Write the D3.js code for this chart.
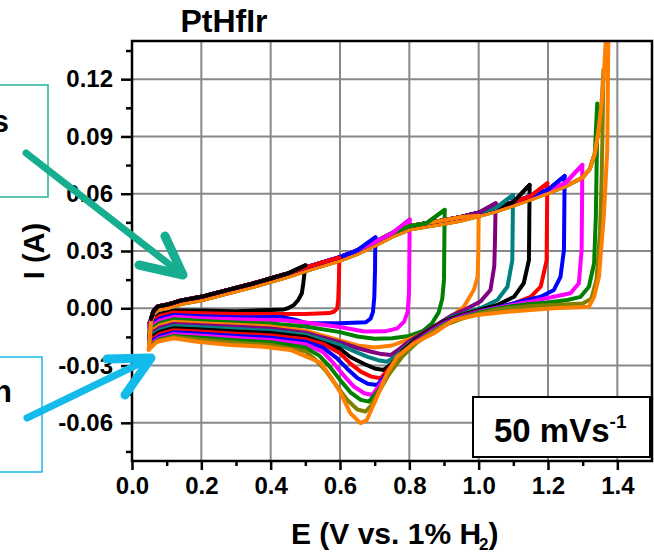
<!DOCTYPE html>
<html>
<head>
<meta charset="utf-8">
<script src="https://cdn.jsdelivr.net/npm/d3@7"></script>
<style>
body { margin: 0; background: #fff; }
svg { display: block; font-family: "Liberation Sans", Arial, sans-serif; font-weight: bold; }
</style>
</head>
<body>
<div id="chart"></div>
<script>
// upper potential limit of each cycle and its colour
var upperLimits = [0.5, 0.6, 0.7, 0.8, 0.9, 1.0, 1.05, 1.1, 1.15, 1.2, 1.25, 1.3, 1.35, 1.37, 1.38];
var lineColors = ["#000000", "#ff0000", "#0000ff", "#ff00ff", "#008000", "#ff8000", "#800080", "#008080",
    "#000000", "#ff0000", "#0000ff", "#ff00ff", "#008000", "#808000", "#ff8000"];

// anodic (forward) sweep; the earlier cycles run slightly above the last ones
var forwardE = [0.055, 0.062, 0.075, 0.1, 0.14, 0.2, 0.28, 0.35, 0.4, 0.45, 0.5, 0.55, 0.6, 0.65, 0.7, 0.75,
    0.8, 0.85, 0.9, 0.95, 1.0, 1.05, 1.1, 1.15, 1.2, 1.25, 1.3, 1.32, 1.335, 1.345, 1.355, 1.362, 1.368, 1.372];
var forwardI = [-0.007, -0.003, -0.0008, 0.0, 0.0022, 0.0042, 0.008, 0.0112, 0.0138, 0.0165, 0.0195, 0.0222,
    0.025, 0.0285, 0.0328, 0.0375, 0.0412, 0.0428, 0.0443, 0.046, 0.0483, 0.0508, 0.0538, 0.057, 0.0603,
    0.0638, 0.0685, 0.0728, 0.081, 0.092, 0.108, 0.125, 0.145, 0.16];
var forwardUpperI = [-0.0055, -0.0015, 0.001, 0.0018, 0.004, 0.006, 0.0098, 0.013, 0.0156, 0.0183, 0.0213, 0.024,
    0.0268, 0.0303, 0.0346, 0.0393, 0.043, 0.0446, 0.0461, 0.0478, 0.0501, 0.0526, 0.0556, 0.0588, 0.0621,
    0.0656, 0.0703, 0.0746, 0.0828, 0.0938, 0.1098, 0.1268, 0.1468, 0.1618];
var upperBandCycles = 12;

// cathodic (return) sweeps, [E, I], starting at the turning point
var rev050 = [[0.5, 0.0225], [0.494, 0.013], [0.49, 0.0079], [0.48, 0.0045], [0.467, 0.0017], [0.45, 0.0],
    [0.438, -0.0006], [0.4, -0.0009], [0.3, -0.0015], [0.2, -0.0012], [0.12, -0.0012], [0.08, -0.003],
    [0.06, -0.0055], [0.05, -0.0075]];
var rev060 = [[0.598, 0.0265], [0.597, 0.015], [0.595, 0.005], [0.592, 0.0], [0.583, -0.0017], [0.57, -0.0025],
    [0.5, -0.003], [0.4, -0.003], [0.3, -0.003], [0.2, -0.0026], [0.12, -0.0022], [0.08, -0.004],
    [0.06, -0.0065], [0.05, -0.0085]];
var rev070 = [[0.702, 0.0372], [0.701, 0.02], [0.699, 0.006], [0.695, -0.002], [0.688, -0.0055], [0.675, -0.0073],
    [0.6, -0.0079], [0.505, -0.0079], [0.47, -0.006], [0.43, -0.0046], [0.3, -0.0047], [0.2, -0.0042],
    [0.12, -0.0035], [0.08, -0.0055], [0.06, -0.0078], [0.05, -0.0098]];
var rev080 = [[0.801, 0.0465], [0.8, 0.025], [0.799, 0.008], [0.795, -0.002], [0.785, -0.007], [0.765, -0.0105],
    [0.73, -0.0121], [0.67, -0.0122], [0.6, -0.0098], [0.5, -0.0075], [0.43, -0.0062], [0.3, -0.0058],
    [0.2, -0.0052], [0.12, -0.0045], [0.08, -0.0065], [0.06, -0.009], [0.05, -0.011]];
var rev090 = [[0.902, 0.0515], [0.901, 0.035], [0.9, 0.015], [0.895, 0.005], [0.885, -0.002], [0.865, -0.008],
    [0.84, -0.0118], [0.8, -0.0145], [0.75, -0.0157], [0.7, -0.016], [0.65, -0.0148], [0.6, -0.0125],
    [0.5, -0.0095], [0.4, -0.008], [0.3, -0.0075], [0.2, -0.0066], [0.12, -0.0058], [0.08, -0.0078],
    [0.06, -0.0102], [0.05, -0.0122]];
var rev100 = [[1.0, 0.0485], [0.999, 0.03], [0.997, 0.0165], [0.986, 0.0096], [0.957, 0.0008], [0.93, -0.003],
    [0.909, -0.0061], [0.87, -0.0105], [0.813, -0.0152], [0.75, -0.0195], [0.7, -0.0205], [0.65, -0.0195],
    [0.6, -0.0168], [0.5, -0.0118], [0.4, -0.0095], [0.3, -0.0086], [0.2, -0.0078], [0.12, -0.007],
    [0.08, -0.009], [0.06, -0.0115], [0.05, -0.0135]];
var rev105 = [[1.049, 0.055], [1.047, 0.035], [1.045, 0.022], [1.034, 0.0096], [1.005, 0.0035], [0.957, -0.001],
    [0.92, -0.004], [0.88, -0.0085], [0.84, -0.0128], [0.8, -0.0172], [0.77, -0.0215], [0.746, -0.0245],
    [0.72, -0.024], [0.69, -0.0228], [0.65, -0.0208], [0.6, -0.0178], [0.5, -0.0128], [0.4, -0.0106],
    [0.3, -0.0097], [0.2, -0.0089], [0.12, -0.0082], [0.08, -0.0102], [0.06, -0.0127], [0.05, -0.0147]];
var rev110 = [[1.099, 0.0593], [1.098, 0.04], [1.097, 0.025], [1.083, 0.0113], [1.054, 0.0043], [1.005, 0.0],
    [0.96, -0.0025], [0.92, -0.0048], [0.88, -0.009], [0.84, -0.0135], [0.8, -0.0185], [0.765, -0.0245],
    [0.736, -0.028], [0.71, -0.0272], [0.68, -0.0255], [0.65, -0.0232], [0.6, -0.0192], [0.5, -0.0138],
    [0.4, -0.0118], [0.3, -0.0109], [0.2, -0.01], [0.12, -0.0093], [0.08, -0.0113], [0.06, -0.0137],
    [0.05, -0.0157]];
var rev115 = [[1.147, 0.0646], [1.146, 0.045], [1.145, 0.0253], [1.13, 0.0131], [1.102, 0.006], [1.054, 0.0017],
    [1.0, -0.001], [0.95, -0.0035], [0.9, -0.0068], [0.86, -0.0112], [0.82, -0.016], [0.78, -0.0225],
    [0.75, -0.029], [0.726, -0.0323], [0.7, -0.0315], [0.67, -0.0292], [0.63, -0.0255], [0.6, -0.0212],
    [0.5, -0.015], [0.4, -0.013], [0.3, -0.0121], [0.2, -0.0111], [0.12, -0.0104], [0.08, -0.0124],
    [0.06, -0.0148], [0.05, -0.0168]];
var rev120 = [[1.198, 0.0655], [1.197, 0.045], [1.196, 0.025], [1.179, 0.0113], [1.15, 0.006], [1.102, 0.0026],
    [1.05, 0.0], [1.0, -0.0015], [0.95, -0.004], [0.9, -0.0075], [0.86, -0.0118], [0.82, -0.0168],
    [0.78, -0.0235], [0.745, -0.031], [0.717, -0.0367], [0.69, -0.0358], [0.66, -0.0332], [0.63, -0.029],
    [0.6, -0.0235], [0.55, -0.0185], [0.5, -0.0162], [0.4, -0.0142], [0.3, -0.0133], [0.2, -0.0122],
    [0.12, -0.0115], [0.08, -0.0135], [0.06, -0.0158], [0.05, -0.0178]];
var rev125 = [[1.248, 0.0693], [1.247, 0.05], [1.246, 0.0305], [1.236, 0.0165], [1.217, 0.0096], [1.179, 0.006],
    [1.102, 0.0026], [1.05, 0.0003], [1.0, -0.0018], [0.95, -0.0043], [0.9, -0.0078], [0.86, -0.0122],
    [0.82, -0.0172], [0.78, -0.024], [0.745, -0.0325], [0.707, -0.0402], [0.68, -0.0395], [0.65, -0.0365],
    [0.62, -0.0315], [0.59, -0.026], [0.55, -0.0205], [0.5, -0.0175], [0.4, -0.0154], [0.3, -0.0145],
    [0.2, -0.0133], [0.12, -0.0126], [0.08, -0.0146], [0.06, -0.0168], [0.05, -0.0188]];
var rev130 = [[1.299, 0.0751], [1.298, 0.05], [1.297, 0.0305], [1.289, 0.0131], [1.265, 0.0079], [1.217, 0.006],
    [1.15, 0.0035], [1.1, 0.0018], [1.05, 0.0002], [1.0, -0.002], [0.95, -0.0046], [0.9, -0.0082],
    [0.86, -0.0126], [0.82, -0.0176], [0.78, -0.0245], [0.74, -0.034], [0.693, -0.0454], [0.67, -0.0445],
    [0.64, -0.041], [0.61, -0.035], [0.58, -0.0285], [0.55, -0.0228], [0.5, -0.0188], [0.4, -0.0166],
    [0.3, -0.0156], [0.2, -0.0144], [0.12, -0.0136], [0.08, -0.0156], [0.06, -0.0178], [0.05, -0.0198]];
var rev135 = [[1.342, 0.1073], [1.341, 0.083], [1.338, 0.048], [1.333, 0.0236], [1.318, 0.0113], [1.294, 0.006],
    [1.256, 0.0043], [1.2, 0.003], [1.15, 0.0022], [1.1, 0.0012], [1.05, -0.0002], [1.0, -0.0023],
    [0.95, -0.005], [0.9, -0.0086], [0.86, -0.013], [0.82, -0.018], [0.78, -0.025], [0.74, -0.0345],
    [0.71, -0.0435], [0.683, -0.0489], [0.66, -0.048], [0.63, -0.044], [0.6, -0.0375], [0.57, -0.0305],
    [0.54, -0.0248], [0.5, -0.0205], [0.4, -0.0178], [0.3, -0.0168], [0.2, -0.0155], [0.12, -0.0145],
    [0.08, -0.0163], [0.06, -0.0185], [0.05, -0.0205]];
var rev137 = [[1.36, 0.125], [1.358, 0.1], [1.355, 0.07], [1.35, 0.04], [1.34, 0.015], [1.325, 0.005],
    [1.3, 0.0025], [1.22, 0.0017], [1.15, 0.0012], [1.1, 0.0003], [1.05, -0.0008], [1.0, -0.0028],
    [0.95, -0.0055], [0.9, -0.009], [0.86, -0.0132], [0.82, -0.0182], [0.78, -0.0252], [0.74, -0.0348],
    [0.71, -0.0445], [0.69, -0.051], [0.673, -0.0541], [0.65, -0.053], [0.62, -0.0478], [0.59, -0.0405],
    [0.56, -0.033], [0.53, -0.027], [0.5, -0.0225], [0.4, -0.0192], [0.3, -0.018], [0.2, -0.0165],
    [0.12, -0.015], [0.08, -0.0168], [0.06, -0.019], [0.05, -0.021]];
var rev138 = [[1.375, 0.16], [1.371, 0.083], [1.361, 0.048], [1.347, 0.0165], [1.333, 0.006], [1.318, 0.0008],
    [1.216, 0.0], [1.083, -0.0018], [0.996, -0.0035], [0.928, -0.0061], [0.871, -0.0131], [0.813, -0.0183],
    [0.765, -0.0253], [0.736, -0.034], [0.707, -0.0463], [0.677, -0.0586], [0.659, -0.0602], [0.63, -0.055],
    [0.602, -0.0444], [0.573, -0.0358], [0.544, -0.0286], [0.515, -0.0262], [0.457, -0.0218], [0.38, -0.0201],
    [0.284, -0.0192], [0.188, -0.0175], [0.12, -0.0157], [0.072, -0.0175], [0.048, -0.0218]];
var returnSweeps = [rev050, rev060, rev070, rev080, rev090, rev100, rev105, rev110, rev115, rev120,
    rev125, rev130, rev135, rev137, rev138];

var xTicks = [0.0, 0.2, 0.4, 0.6, 0.8, 1.0, 1.2, 1.4];
var xMinor = [0.1, 0.3, 0.5, 0.7, 0.9, 1.1, 1.3];
var yTicks = [0.12, 0.09, 0.06, 0.03, 0.0, -0.03, -0.06];
var yMinor = [0.135, 0.105, 0.075, 0.045, 0.015, -0.015, -0.045, -0.075];

var width = 654,
    height = 555,
    margin = {top: 41, left: 132},
    plotW = 520,
    plotH = 420;

var x = d3.scaleLinear().domain([0, 1.5]).range([0, plotW]);
var y = d3.scaleLinear().domain([-0.08, 0.14]).range([plotH, 0]);

var svg = d3.select("#chart")
    .append("svg")
    .attr("width", width)
    .attr("height", height);

var g = svg.append("g")
    .attr("transform", "translate(" + margin.left + "," + margin.top + ")");

g.append("clipPath").attr("id", "clip")
    .append("rect").attr("width", plotW).attr("height", plotH);

// grid
g.append("g").selectAll("line")
    .data(xTicks.slice(1))
    .enter().append("line")
    .attr("x1", d => x(d)).attr("x2", d => x(d))
    .attr("y1", 0).attr("y2", plotH)
    .attr("stroke", "#888").attr("stroke-width", 2);
g.append("g").selectAll("line")
    .data(yTicks)
    .enter().append("line")
    .attr("x1", 0).attr("x2", plotW)
    .attr("y1", d => y(d)).attr("y2", d => y(d))
    .attr("stroke", "#888").attr("stroke-width", 2);

// curves
var line = d3.line()
    .x(d => x(d[0]))
    .y(d => y(d[1]));

var cycles = returnSweeps.map(function (rev, i) {
    var turnE = rev[0][0];
    var fwdI = i < upperBandCycles ? forwardUpperI : forwardI;
    var fwd = [];
    forwardE.forEach(function (e, k) {
        if (e < turnE - 0.002) fwd.push([e, fwdI[k]]);
    });
    fwd.push(rev[0]);
    return {
        limit: upperLimits[i],
        color: lineColors[i],
        forward: fwd,
        points: [rev[rev.length - 1]].concat(fwd, rev.slice(1))
    };
});

var curves = g.append("g").attr("clip-path", "url(#clip)");

curves.selectAll("path.cycle")
    .data(cycles)
    .enter().append("path")
    .attr("class", "cycle")
    .attr("d", d => line(d.points))
    .attr("fill", "none")
    .attr("stroke", d => d.color)
    .attr("stroke-width", 4)
    .attr("stroke-linejoin", "round")
    .attr("stroke-linecap", "round");

// forward sweeps of the earlier cycles sit on top of the band, shortest last
curves.selectAll("path.fwd")
    .data(cycles.slice(0, upperBandCycles).reverse())
    .enter().append("path")
    .attr("class", "fwd")
    .attr("d", d => line(d.forward))
    .attr("fill", "none")
    .attr("stroke", d => d.color)
    .attr("stroke-width", 4)
    .attr("stroke-linejoin", "round")
    .attr("stroke-linecap", "round");

// frame
g.append("rect")
    .attr("width", plotW).attr("height", plotH)
    .attr("fill", "none").attr("stroke", "#000").attr("stroke-width", 2.5);

// axes
var yAxis = g.append("g")
    .call(d3.axisLeft(y).tickValues(yTicks).tickFormat(d => d.toFixed(2)).tickSize(11).tickPadding(8));
var yAxisMinor = g.append("g")
    .call(d3.axisLeft(y).tickValues(yMinor).tickFormat("").tickSize(6));
var xAxis = g.append("g")
    .attr("transform", "translate(0," + plotH + ")")
    .call(d3.axisBottom(x).tickValues(xTicks).tickFormat(d => d.toFixed(1)).tickSize(9).tickPadding(7));
var xAxisMinor = g.append("g")
    .attr("transform", "translate(0," + plotH + ")")
    .call(d3.axisBottom(x).tickValues(xMinor).tickFormat("").tickSize(5));

[yAxis, yAxisMinor, xAxis, xAxisMinor].forEach(function (a) {
    a.select(".domain").remove();
    a.selectAll(".tick line").attr("stroke", "#000").attr("stroke-width", 2.5);
    a.selectAll(".tick text")
        .attr("fill", "#000")
        .style("font-family", "'Liberation Sans', Arial, sans-serif")
        .style("font-weight", "bold")
        .style("font-size", "24px");
});

// titles
svg.append("text")
    .attr("x", 224).attr("y", 32)
    .attr("text-anchor", "middle")
    .style("font-size", "32px")
    .text("PtHfIr");

svg.append("text")
    .attr("transform", "translate(44,251) rotate(-90)")
    .attr("text-anchor", "middle")
    .style("font-size", "29px")
    .text("I (A)");

var xl = svg.append("text")
    .attr("x", 291).attr("y", 544)
    .style("font-size", "30px");
xl.append("tspan").text("E (V vs. 1% H");
xl.append("tspan").attr("dx", -2).attr("dy", 6).style("font-size", "17px").text("2");
xl.append("tspan").attr("dy", -6).text(")");

// scan-rate box
svg.append("rect")
    .attr("x", 473).attr("y", 397).attr("width", 177).attr("height", 60)
    .attr("fill", "#fff").attr("stroke", "#000").attr("stroke-width", 2);
var rate = svg.append("text")
    .attr("x", 494).attr("y", 442)
    .style("font-size", "33px");
rate.append("tspan").text("50 mVs");
rate.append("tspan").attr("dy", -14).style("font-size", "19px").text("-1");

// annotations on the left
svg.append("rect")
    .attr("x", -10).attr("y", 85).attr("width", 58).attr("height", 112)
    .attr("fill", "none").attr("stroke", "#1fb496").attr("stroke-width", 1.5);
svg.append("text")
    .attr("x", 9).attr("y", 132).attr("text-anchor", "end")
    .style("font-size", "31px").text("s");
svg.append("rect")
    .attr("x", -10).attr("y", 357).attr("width", 52).attr("height", 115)
    .attr("fill", "none").attr("stroke", "#1ab8e8").attr("stroke-width", 1.5);
svg.append("text")
    .attr("x", 12).attr("y", 402).attr("text-anchor", "end")
    .style("font-size", "31px").text("n");

function arrow(color, tail, tip, arm1, arm2) {
    var a = svg.append("g")
        .attr("stroke", color).attr("fill", "none")
        .attr("stroke-linecap", "round").attr("stroke-linejoin", "round");
    a.append("line")
        .attr("x1", tail[0]).attr("y1", tail[1]).attr("x2", tip[0]).attr("y2", tip[1])
        .attr("stroke-width", 7);
    a.append("path")
        .attr("d", "M" + arm1 + "L" + tip + "L" + arm2)
        .attr("stroke-width", 9);
}
arrow("#17ad8f", [26, 153], [183, 275], [165, 236], [139, 265]);
arrow("#12bbea", [27, 418], [151, 358], [107, 359], [125, 395]);
</script>
</body>
</html>
